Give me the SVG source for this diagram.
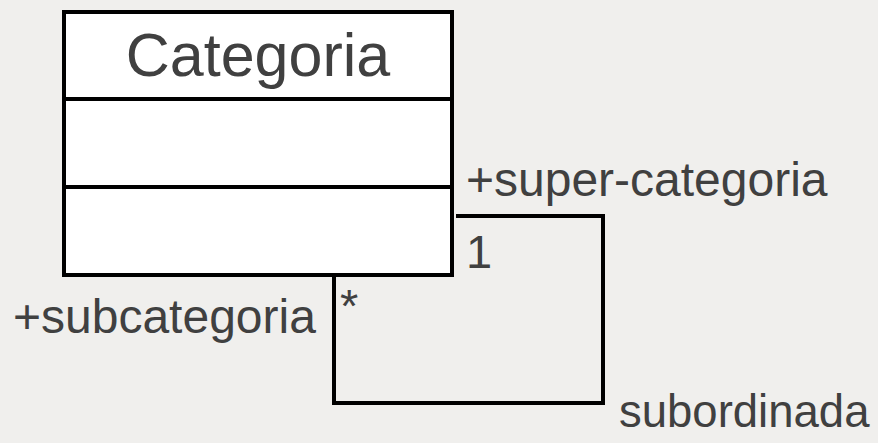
<svg xmlns="http://www.w3.org/2000/svg" width="878" height="443" viewBox="0 0 878 443">
<style>
.t{font-family:"Liberation Sans",Arial,sans-serif;fill:#404040}
.b{fill:#fff;stroke:#000;stroke-width:4}
.c{fill:none;stroke:#000;stroke-width:4;stroke-linejoin:miter}
</style>
<rect width="878" height="443" fill="#f0efed"/>
<g id="Categoria">
<rect class="b" x="64" y="12" width="388" height="263"/>
<line x1="64" y1="99" x2="452" y2="99" stroke="#000" stroke-width="4"/>
<line x1="64" y1="187" x2="452" y2="187" stroke="#000" stroke-width="4"/>
<text class="t" x="258" y="76" font-size="61" text-anchor="middle">Categoria</text>
</g>
<g id="connectors">
<polyline class="c" points="456,216 603,216 603,403 334,403 334,275"/>
<text class="t" x="466" y="196" font-size="48">+super-categoria</text>
<text class="t" x="466" y="268" font-size="47">1</text>
<text class="t" x="13" y="333" font-size="48">+subcategoria</text>
<text class="t" x="340" y="322" font-size="47">*</text>
<text class="t" x="619" y="427" font-size="45.5">subordinada</text>
</g>
</svg>
